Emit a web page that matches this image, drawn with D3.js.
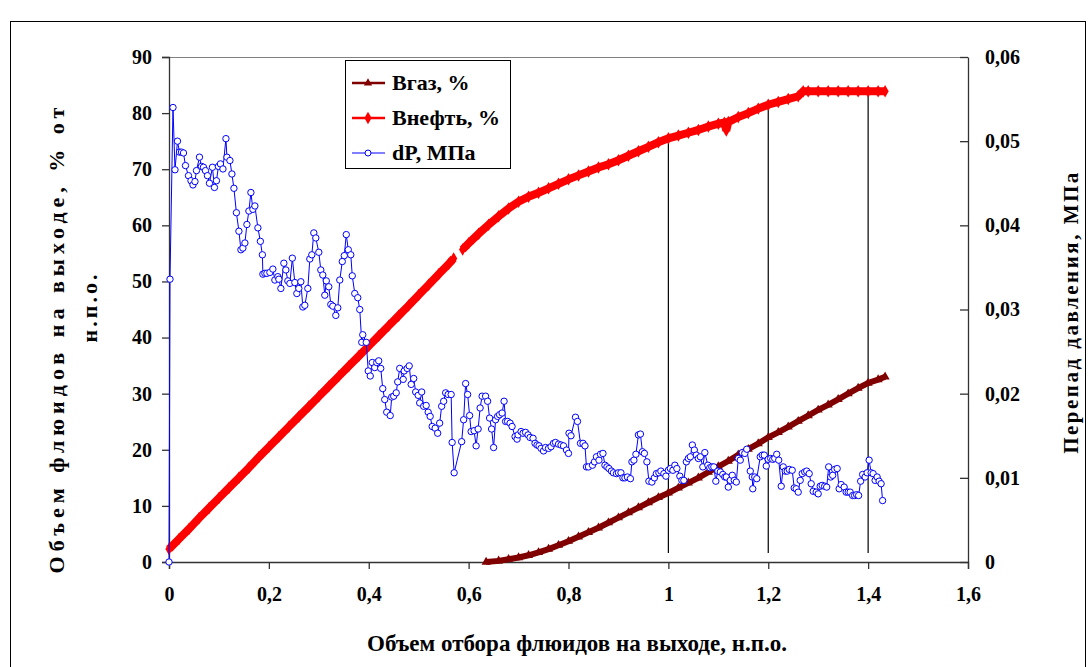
<!DOCTYPE html>
<html>
<head>
<meta charset="utf-8">
<script src="https://cdn.jsdelivr.net/npm/d3@7"></script>
<style>
  body { margin: 0; background: #fff; }
  text { font-family: "Liberation Serif", "Times New Roman", serif; font-weight: bold; }
</style>
</head>
<body>
<div id="chart"></div>
<script>
// ---- data ----
// Вгаз, % (left axis)
var gasX = [0.635, 0.66, 0.68, 0.70, 0.72, 0.74, 0.76, 0.78, 0.80, 0.82, 0.84, 0.86, 0.88, 0.90, 0.92, 0.94, 0.96, 0.98,
  1.00, 1.02, 1.04, 1.06, 1.08, 1.10, 1.12, 1.14, 1.16, 1.18, 1.20, 1.22, 1.24, 1.26, 1.28, 1.30, 1.32, 1.34, 1.36, 1.38, 1.40, 1.42, 1.434];
var gasV = [0.0, 0.2, 0.5, 0.8, 1.2, 1.7, 2.3, 3.0, 3.7, 4.5, 5.3, 6.1, 7.0, 7.9, 8.8, 9.7, 10.6, 11.5,
  12.3, 13.2, 14.1, 15.0, 16.0, 17.0, 18.0, 19.1, 20.1, 21.1, 22.2, 23.1, 24.1, 25.1, 26.1, 27.1, 28.0, 29.0, 30.0, 31.0, 31.9, 32.5, 33.0];

// Внефть, % (left axis); null = break in the curve
var oilX = [0, 0.02, 0.04, 0.06, 0.08, 0.10, 0.12, 0.14, 0.16, 0.18, 0.20, 0.22, 0.24, 0.26, 0.28, 0.30, 0.32, 0.34, 0.36, 0.38,
  0.40, 0.42, 0.44, 0.46, 0.48, 0.50, 0.52, 0.54, 0.56, 0.570, 0.58, 0.588, 0.60, 0.62, 0.64, 0.66, 0.68, 0.70, 0.72, 0.74, 0.76, 0.78,
  0.80, 0.82, 0.84, 0.86, 0.88, 0.90, 0.92, 0.94, 0.96, 0.98, 1.00, 1.02, 1.04, 1.06, 1.08, 1.10, 1.112, 1.116, 1.12, 1.14, 1.16, 1.18,
  1.20, 1.22, 1.24, 1.26, 1.27, 1.28, 1.30, 1.32, 1.34, 1.36, 1.38, 1.40, 1.42, 1.434];
var oilV = [2.3, 4.1, 5.9, 7.8, 9.6, 11.4, 13.2, 15.0, 16.8, 18.7, 20.5, 22.3, 24.1, 25.9, 27.7, 29.5, 31.3, 33.1, 34.9, 36.7,
  38.5, 40.3, 42.1, 43.9, 45.7, 47.6, 49.4, 51.3, 53.1, 54.1, null, 55.7, 56.8, 58.5, 60.1, 61.6, 63.0, 64.2, 65.1, 65.8, 66.6, 67.4,
  68.2, 68.9, 69.6, 70.3, 70.9, 71.6, 72.4, 73.2, 74.0, 74.8, 75.5, 76.0, 76.5, 77.0, 77.6, 78.1, 78.3, 76.9, 78.4, 79.3, 80.0, 80.8,
  81.5, 82.0, 82.5, 83.0, 83.9, 83.9, 83.9, 83.9, 83.9, 83.9, 83.9, 83.9, 83.9, 83.9];

// dP, МПа (right axis)
var dpX = [0, 0.002, 0.008, 0.012, 0.017, 0.021, 0.025, 0.029, 0.033, 0.039, 0.044, 0.048, 0.052, 0.055, 0.061, 0.065, 0.069, 0.073, 0.077, 0.081,
  0.087, 0.091, 0.095, 0.099, 0.103, 0.108, 0.114, 0.116, 0.122, 0.126, 0.130, 0.135, 0.140, 0.144, 0.148, 0.152, 0.156, 0.160, 0.164, 0.168,
  0.172, 0.178, 0.183, 0.187, 0.188, 0.192, 0.196, 0.202, 0.208, 0.212, 0.218, 0.220, 0.224, 0.230, 0.234, 0.238, 0.242, 0.247, 0.252, 0.256,
  0.260, 0.264, 0.268, 0.272, 0.278, 0.282, 0.286, 0.290, 0.294, 0.300, 0.304, 0.308, 0.312, 0.315, 0.320, 0.324, 0.328, 0.334, 0.338, 0.342,
  0.347, 0.351, 0.355, 0.359, 0.364, 0.367, 0.372, 0.378, 0.382, 0.386, 0.388, 0.395, 0.399, 0.403, 0.407, 0.412, 0.416, 0.420, 0.424, 0.428,
  0.432, 0.436, 0.443, 0.446, 0.450, 0.455, 0.458, 0.462, 0.469, 0.471, 0.477, 0.481, 0.485, 0.490, 0.494, 0.499, 0.502, 0.506, 0.510, 0.515,
  0.519, 0.523, 0.527, 0.533, 0.538, 0.542, 0.546, 0.550, 0.554, 0.559, 0.565, 0.567, 0.571, 0.586, 0.590, 0.594, 0.598, 0.602, 0.605, 0.611,
  0.615, 0.619, 0.623, 0.627, 0.634, 0.638, 0.642, 0.646, 0.650, 0.654, 0.658, 0.662, 0.667, 0.671, 0.674, 0.678, 0.683, 0.687, 0.693, 0.697,
  0.699, 0.705, 0.709, 0.714, 0.719, 0.723, 0.729, 0.733, 0.737, 0.741, 0.745, 0.750, 0.754, 0.760, 0.765, 0.770, 0.774, 0.780, 0.785, 0.790,
  0.796, 0.800, 0.801, 0.805, 0.814, 0.818, 0.824, 0.829, 0.833, 0.836, 0.840, 0.848, 0.852, 0.856, 0.861, 0.864, 0.869, 0.873, 0.877, 0.881,
  0.886, 0.890, 0.896, 0.900, 0.905, 0.909, 0.913, 0.918, 0.924, 0.927, 0.931, 0.935, 0.940, 0.944, 0.948, 0.952, 0.957, 0.961, 0.967, 0.972,
  0.976, 0.981, 0.985, 0.991, 0.995, 1.000, 1.004, 1.009, 1.013, 1.017, 1.023, 1.027, 1.031, 1.036, 1.040, 1.044, 1.048, 1.052, 1.056, 1.060,
  1.064, 1.069, 1.073, 1.079, 1.083, 1.087, 1.091, 1.095, 1.099, 1.104, 1.109, 1.113, 1.116, 1.120, 1.124, 1.128, 1.132, 1.136, 1.140, 1.144,
  1.148, 1.153, 1.157, 1.164, 1.168, 1.169, 1.173, 1.177, 1.184, 1.188, 1.192, 1.196, 1.200, 1.205, 1.209, 1.213, 1.217, 1.221, 1.226, 1.230,
  1.234, 1.238, 1.242, 1.248, 1.252, 1.256, 1.260, 1.264, 1.268, 1.273, 1.277, 1.282, 1.286, 1.290, 1.296, 1.300, 1.304, 1.308, 1.313, 1.317,
  1.321, 1.325, 1.329, 1.333, 1.338, 1.342, 1.346, 1.352, 1.356, 1.360, 1.364, 1.369, 1.373, 1.377, 1.381, 1.385, 1.389, 1.394, 1.398, 1.402,
  1.406, 1.410, 1.414, 1.418, 1.422, 1.426, 1.429];
var dpV = [0, 0.0336, 0.0540, 0.0466, 0.0500, 0.0487, 0.0487, 0.0486, 0.0471, 0.0459, 0.0453, 0.0448, 0.0452, 0.0465, 0.0481, 0.0470, 0.0469, 0.0465, 0.0459, 0.0450,
  0.0469, 0.0445, 0.0453, 0.0470, 0.0473, 0.0467, 0.0503, 0.0481, 0.0477, 0.0461, 0.0444, 0.0415, 0.0393, 0.0371, 0.0373, 0.0379, 0.0401, 0.0417, 0.0439, 0.0419,
  0.0423, 0.0397, 0.0381, 0.0365, 0.0342, 0.0343, 0.0343, 0.0344, 0.0348, 0.0335, 0.0339, 0.0336, 0.0325, 0.0355, 0.0347, 0.0334, 0.0331, 0.0361, 0.0332, 0.0319,
  0.0325, 0.0333, 0.0303, 0.0305, 0.0325, 0.0360, 0.0365, 0.0391, 0.0385, 0.0368, 0.0347, 0.0341, 0.0317, 0.0334, 0.0327, 0.0306, 0.0304, 0.0293, 0.0302, 0.0335,
  0.0357, 0.0364, 0.0389, 0.0371, 0.0365, 0.0340, 0.0319, 0.0314, 0.0300, 0.0261, 0.0270, 0.0261, 0.0227, 0.0221, 0.0237, 0.0231, 0.0237, 0.0239, 0.0230, 0.0206,
  0.0193, 0.0178, 0.0174, 0.0196, 0.0197, 0.0201, 0.0214, 0.0230, 0.0217, 0.0227, 0.0230, 0.0233, 0.0211, 0.0218, 0.0202, 0.0198, 0.0189, 0.0202, 0.0185, 0.0186,
  0.0178, 0.0173, 0.0161, 0.0159, 0.0153, 0.0165, 0.0185, 0.0191, 0.0201, 0.0199, 0.0199, 0.0142, 0.0106, 0.0143, 0.0169, 0.0212, 0.0199, 0.0174, 0.0155, 0.0156,
  0.0138, 0.0158, 0.0183, 0.0197, 0.0197, 0.0191, 0.0171, 0.0158, 0.0136, 0.0169, 0.0173, 0.0175, 0.0177, 0.0191, 0.0167, 0.0167, 0.0165, 0.0161, 0.0149, 0.0146,
  0.0151, 0.0155, 0.0153, 0.0154, 0.0151, 0.0148, 0.0147, 0.0141, 0.0139, 0.0138, 0.0135, 0.0132, 0.0136, 0.0135, 0.0137, 0.0141, 0.0142, 0.0140, 0.0139, 0.0138,
  0.0133, 0.0129, 0.0153, 0.0150, 0.0172, 0.0167, 0.0141, 0.0141, 0.0138, 0.0113, 0.0113, 0.0115, 0.0119, 0.0125, 0.0121, 0.0128, 0.0129, 0.0115, 0.0113, 0.0111,
  0.0108, 0.0106, 0.0105, 0.0106, 0.0106, 0.0100, 0.0100, 0.0101, 0.0099, 0.0119, 0.0121, 0.0128, 0.0151, 0.0152, 0.0131, 0.0129, 0.0119, 0.0096, 0.0095, 0.0100,
  0.0105, 0.0106, 0.0108, 0.0105, 0.0102, 0.0109, 0.0111, 0.0109, 0.0115, 0.0111, 0.0102, 0.0097, 0.0097, 0.0119, 0.0123, 0.0125, 0.0139, 0.0133, 0.0127, 0.0123,
  0.0125, 0.0113, 0.0130, 0.0115, 0.0112, 0.0113, 0.0113, 0.0096, 0.0108, 0.0107, 0.0104, 0.0101, 0.0101, 0.0089, 0.0097, 0.0103, 0.0097, 0.0095, 0.0123, 0.0121,
  0.0130, 0.0129, 0.0134, 0.0108, 0.0101, 0.0087, 0.0101, 0.0099, 0.0125, 0.0127, 0.0127, 0.0114, 0.0122, 0.0123, 0.0122, 0.0123, 0.0128, 0.0121, 0.0090, 0.0113,
  0.0108, 0.0108, 0.0110, 0.0109, 0.0088, 0.0087, 0.0083, 0.0097, 0.0105, 0.0107, 0.0108, 0.0105, 0.0093, 0.0084, 0.0083, 0.0081, 0.0090, 0.0091, 0.0090, 0.0089,
  0.0113, 0.0101, 0.0103, 0.0110, 0.0111, 0.0087, 0.0092, 0.0089, 0.0083, 0.0083, 0.0083, 0.0079, 0.0079, 0.0080, 0.0079, 0.0096, 0.0104, 0.0101, 0.0106, 0.0121,
  0.0106, 0.0105, 0.0097, 0.0101, 0.0096, 0.0093, 0.0073];

// thin vertical guide lines (x, top value on the left axis)
var guideX = [1.0, 1.2, 1.4];
var guideTop = [75.5, 81.5, 83.9];
var guideBottom = 1.6;

var xTicks = [0, 0.2, 0.4, 0.6, 0.8, 1.0, 1.2, 1.4, 1.6];
var yLeftTicks = [0, 10, 20, 30, 40, 50, 60, 70, 80, 90];
var yRightTicks = [0, 0.01, 0.02, 0.03, 0.04, 0.05, 0.06];

var legendNames = ["Вгаз, %", "Внефть, %", "dP, МПа"];
var colors = ["#800000", "#ff0000", "#0000ff"];

// ---- chart ----
var W = 1091, H = 667;
var pL = 169, pR = 968, pT = 57, pB = 562;

var svg = d3.select("#chart").append("svg")
    .attr("width", W)
    .attr("height", H);

svg.append("rect").attr("width", W).attr("height", H).attr("fill", "#fff");
// outer frame
svg.append("rect")
    .attr("x", 10.5).attr("y", 21.5)
    .attr("width", 1075).attr("height", 660)
    .attr("fill", "none").attr("stroke", "#000").attr("stroke-width", 1);

var x = d3.scaleLinear().domain([0, 1.6]).range([pL, pR]);
var yL = d3.scaleLinear().domain([0, 90]).range([pB, pT]);
var yR = d3.scaleLinear().domain([0, 0.06]).range([pB, pT]);

var comma = function(d) { return String(+d.toFixed(2)).replace(".", ","); };

// plot area top border
svg.append("line")
    .attr("x1", pL).attr("x2", pR)
    .attr("y1", pT + 0.5).attr("y2", pT + 0.5)
    .attr("stroke", "#808080");

// axes
var gx = svg.append("g")
    .attr("transform", "translate(0," + pB + ")")
    .call(d3.axisBottom(x).tickValues(xTicks).tickFormat(comma).tickSize(7).tickPadding(18));
var gyl = svg.append("g")
    .attr("transform", "translate(" + pL + ",0)")
    .call(d3.axisLeft(yL).tickValues(yLeftTicks).tickSize(7).tickPadding(10));
var gyr = svg.append("g")
    .attr("transform", "translate(" + pR + ",0)")
    .call(d3.axisRight(yR).tickValues(yRightTicks).tickFormat(comma).tickSizeInner(-8).tickSizeOuter(0).tickPadding(17));

[gx, gyl, gyr].forEach(function(g) {
  g.selectAll("path, line").attr("stroke", "#333").attr("stroke-width", 1.3);
  g.selectAll("text").attr("font-size", 20).attr("fill", "#000")
    .style("font-family", "'Liberation Serif', 'Times New Roman', serif").style("font-weight", "bold");
});
gyr.selectAll(".tick text").attr("x", 17);

// guide lines
svg.append("g").selectAll("line")
    .data(guideX)
    .enter().append("line")
    .attr("x1", function(d) { return x(d); })
    .attr("x2", function(d) { return x(d); })
    .attr("y1", yL(guideBottom))
    .attr("y2", function(d, i) { return yL(guideTop[i]); })
    .attr("stroke", "#000").attr("stroke-width", 1.2);

// Вгаз
var gasData = gasX.map(function(v, i) { return { x: v, y: gasV[i] }; });
var lineL = d3.line().defined(function(d) { return d.y != null; })
    .x(function(d) { return x(d.x); }).y(function(d) { return yL(d.y); });

svg.append("path").datum(gasData)
    .attr("d", lineL).attr("fill", "none")
    .attr("stroke", colors[0]).attr("stroke-width", 6);
svg.append("g").selectAll("path")
    .data(gasData).enter().append("path")
    .attr("transform", function(d) { return "translate(" + x(d.x) + "," + yL(d.y) + ")"; })
    .attr("d", d3.symbol(d3.symbolTriangle, 36))
    .attr("fill", colors[0]);

// Внефть
var oilData = oilX.map(function(v, i) { return { x: v, y: oilV[i] }; });
svg.append("path").datum(oilData)
    .attr("d", lineL).attr("fill", "none")
    .attr("stroke", colors[1]).attr("stroke-width", 8);
svg.append("g").selectAll("path")
    .data(oilData.filter(function(d) { return d.y != null; })).enter().append("path")
    .attr("transform", function(d) { return "translate(" + x(d.x) + "," + yL(d.y) + ")"; })
    .attr("d", d3.symbol(d3.symbolDiamond, 45))
    .attr("fill", colors[1]);

// dP
var dpData = dpX.map(function(v, i) { return { x: v, y: dpV[i] }; });
svg.append("path").datum(dpData)
    .attr("d", d3.line().x(function(d) { return x(d.x); }).y(function(d) { return yR(d.y); }))
    .attr("fill", "none").attr("stroke", colors[2]).attr("stroke-width", 1);
svg.append("g").selectAll("circle")
    .data(dpData).enter().append("circle")
    .attr("cx", function(d) { return x(d.x); })
    .attr("cy", function(d) { return yR(d.y); })
    .attr("r", 3.2)
    .attr("fill", "#fff").attr("stroke", colors[2]).attr("stroke-width", 1);

// legend
var lg = svg.append("g").attr("transform", "translate(345,60)");
lg.append("rect").attr("x", 0.5).attr("y", 0.5).attr("width", 165).attr("height", 108)
    .attr("fill", "#fff").attr("stroke", "#000");
var symbols = [d3.symbolTriangle, d3.symbolDiamond, null];
legendNames.forEach(function(name, i) {
  var cy = 23 + i * 35;
  lg.append("line").attr("x1", 7).attr("x2", 40).attr("y1", cy).attr("y2", cy)
    .attr("stroke", colors[i]).attr("stroke-width", i == 2 ? 1.2 : 2.5);
  if (symbols[i]) {
    lg.append("path").attr("transform", "translate(23," + cy + ")")
      .attr("d", d3.symbol(symbols[i], i == 0 ? 30 : 45)).attr("fill", colors[i]);
  } else {
    lg.append("circle").attr("cx", 23).attr("cy", cy).attr("r", 3)
      .attr("fill", "#fff").attr("stroke", colors[i]);
  }
  lg.append("text").attr("x", 47).attr("y", cy + 7)
    .attr("font-size", 22).text(name);
});

// axis titles
svg.append("text")
    .attr("x", 577).attr("y", 651)
    .attr("text-anchor", "middle").attr("font-size", 23)
    .text("Объем отбора флюидов на выходе, н.п.о.");

svg.append("text")
    .attr("transform", "translate(64,338) rotate(-90)")
    .attr("text-anchor", "middle").attr("font-size", 22)
    .attr("letter-spacing", 5)
    .text("Объем флюидов на выходе, % от");
svg.append("text")
    .attr("transform", "translate(97,307) rotate(-90)")
    .attr("text-anchor", "middle").attr("font-size", 22)
    .attr("letter-spacing", 3)
    .text("н.п.о.");

svg.append("text")
    .attr("transform", "translate(1078,312) rotate(-90)")
    .attr("text-anchor", "middle").attr("font-size", 21)
    .attr("letter-spacing", 2.5)
    .text("Перепад давления, МПа");
</script>
</body>
</html>
